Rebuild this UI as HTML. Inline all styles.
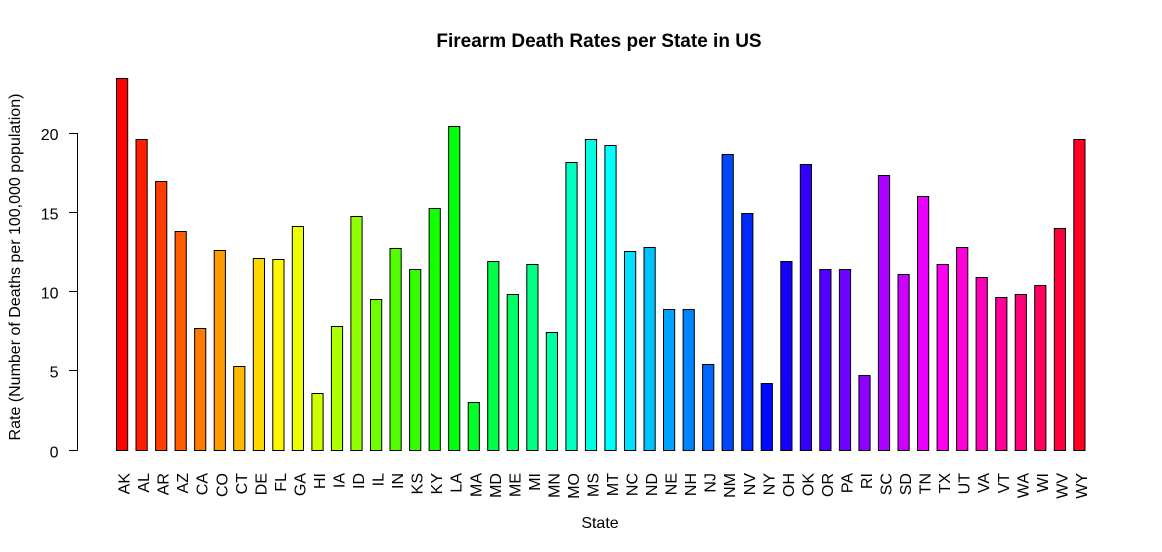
<!DOCTYPE html>
<html>
<head>
<meta charset="utf-8">
<style>
  html, body { margin: 0; padding: 0; background: #ffffff; }
  svg { display: block; }
  text { font-family: "Liberation Sans", Arial, sans-serif; fill: #000; }
</style>
</head>
<body>
<svg width="1162" height="552" viewBox="0 0 1162 552" xmlns="http://www.w3.org/2000/svg">
  <rect x="0" y="0" width="1162" height="552" fill="#ffffff"/>

  <text x="599" y="47" font-size="19" font-weight="bold" text-anchor="middle">Firearm Death Rates per State in US</text>

  <g stroke="#000" stroke-width="1" fill="none">
    <line x1="77.5" y1="133" x2="77.5" y2="450.5"/>
    <line x1="69" y1="450.5" x2="77.5" y2="450.5"/>
    <line x1="69" y1="370.5" x2="77.5" y2="370.5"/>
    <line x1="69" y1="291.5" x2="77.5" y2="291.5"/>
    <line x1="69" y1="212.5" x2="77.5" y2="212.5"/>
    <line x1="69" y1="133.5" x2="77.5" y2="133.5"/>
  </g>
  <g font-size="16" text-anchor="end">
    <text x="58.5" y="457.5">0</text>
    <text x="58.5" y="377.5">5</text>
    <text x="58.5" y="298.5">10</text>
    <text x="58.5" y="219.5">15</text>
    <text x="58.5" y="140">20</text>
  </g>

  <text transform="translate(20,267) rotate(-90)" font-size="16" text-anchor="middle">Rate (Number of Deaths per 100,000 population)</text>

  <text x="600" y="528" font-size="16" text-anchor="middle">State</text>

  <g stroke="#000" stroke-width="1">
    <rect x="116.5" y="78.5" width="11.2" height="372" fill="hsl(0,100%,50%)"/>
    <rect x="136.0" y="139.5" width="11.2" height="311" fill="hsl(7.2,100%,50%)"/>
    <rect x="155.6" y="181.5" width="11.2" height="269" fill="hsl(14.4,100%,50%)"/>
    <rect x="175.1" y="231.5" width="11.2" height="219" fill="hsl(21.6,100%,50%)"/>
    <rect x="194.6" y="328.5" width="11.2" height="122" fill="hsl(28.8,100%,50%)"/>
    <rect x="214.2" y="250.5" width="11.2" height="200" fill="hsl(36,100%,50%)"/>
    <rect x="233.7" y="366.5" width="11.2" height="84" fill="hsl(43.2,100%,50%)"/>
    <rect x="253.3" y="258.5" width="11.2" height="192" fill="hsl(50.4,100%,50%)"/>
    <rect x="272.8" y="259.5" width="11.2" height="191" fill="hsl(57.6,100%,50%)"/>
    <rect x="292.3" y="226.5" width="11.2" height="224" fill="hsl(64.8,100%,50%)"/>
    <rect x="311.9" y="393.5" width="11.2" height="57" fill="hsl(72,100%,50%)"/>
    <rect x="331.4" y="326.5" width="11.2" height="124" fill="hsl(79.2,100%,50%)"/>
    <rect x="350.9" y="216.5" width="11.2" height="234" fill="hsl(86.4,100%,50%)"/>
    <rect x="370.5" y="299.5" width="11.2" height="151" fill="hsl(93.6,100%,50%)"/>
    <rect x="390.0" y="248.5" width="11.2" height="202" fill="hsl(100.8,100%,50%)"/>
    <rect x="409.6" y="269.5" width="11.2" height="181" fill="hsl(108,100%,50%)"/>
    <rect x="429.1" y="208.5" width="11.2" height="242" fill="hsl(115.2,100%,50%)"/>
    <rect x="448.6" y="126.5" width="11.2" height="324" fill="hsl(122.4,100%,50%)"/>
    <rect x="468.2" y="402.5" width="11.2" height="48" fill="hsl(129.6,100%,50%)"/>
    <rect x="487.7" y="261.5" width="11.2" height="189" fill="hsl(136.8,100%,50%)"/>
    <rect x="507.2" y="294.5" width="11.2" height="156" fill="hsl(144,100%,50%)"/>
    <rect x="526.8" y="264.5" width="11.2" height="186" fill="hsl(151.2,100%,50%)"/>
    <rect x="546.3" y="332.5" width="11.2" height="118" fill="hsl(158.4,100%,50%)"/>
    <rect x="565.9" y="162.5" width="11.2" height="288" fill="hsl(165.6,100%,50%)"/>
    <rect x="585.4" y="139.5" width="11.2" height="311" fill="hsl(172.8,100%,50%)"/>
    <rect x="604.9" y="145.5" width="11.2" height="305" fill="hsl(180,100%,50%)"/>
    <rect x="624.5" y="251.5" width="11.2" height="199" fill="hsl(187.2,100%,50%)"/>
    <rect x="644.0" y="247.5" width="11.2" height="203" fill="hsl(194.4,100%,50%)"/>
    <rect x="663.5" y="309.5" width="11.2" height="141" fill="hsl(201.6,100%,50%)"/>
    <rect x="683.1" y="309.5" width="11.2" height="141" fill="hsl(208.8,100%,50%)"/>
    <rect x="702.6" y="364.5" width="11.2" height="86" fill="hsl(216,100%,50%)"/>
    <rect x="722.1" y="154.5" width="11.2" height="296" fill="hsl(223.2,100%,50%)"/>
    <rect x="741.7" y="213.5" width="11.2" height="237" fill="hsl(230.4,100%,50%)"/>
    <rect x="761.2" y="383.5" width="11.2" height="67" fill="hsl(237.6,100%,50%)"/>
    <rect x="780.8" y="261.5" width="11.2" height="189" fill="hsl(244.8,100%,50%)"/>
    <rect x="800.3" y="164.5" width="11.2" height="286" fill="hsl(252,100%,50%)"/>
    <rect x="819.8" y="269.5" width="11.2" height="181" fill="hsl(259.2,100%,50%)"/>
    <rect x="839.4" y="269.5" width="11.2" height="181" fill="hsl(266.4,100%,50%)"/>
    <rect x="858.9" y="375.5" width="11.2" height="75" fill="hsl(273.6,100%,50%)"/>
    <rect x="878.4" y="175.5" width="11.2" height="275" fill="hsl(280.8,100%,50%)"/>
    <rect x="898.0" y="274.5" width="11.2" height="176" fill="hsl(288,100%,50%)"/>
    <rect x="917.5" y="196.5" width="11.2" height="254" fill="hsl(295.2,100%,50%)"/>
    <rect x="937.1" y="264.5" width="11.2" height="186" fill="hsl(302.4,100%,50%)"/>
    <rect x="956.6" y="247.5" width="11.2" height="203" fill="hsl(309.6,100%,50%)"/>
    <rect x="976.1" y="277.5" width="11.2" height="173" fill="hsl(316.8,100%,50%)"/>
    <rect x="995.7" y="297.5" width="11.2" height="153" fill="hsl(324,100%,50%)"/>
    <rect x="1015.2" y="294.5" width="11.2" height="156" fill="hsl(331.2,100%,50%)"/>
    <rect x="1034.7" y="285.5" width="11.2" height="165" fill="hsl(338.4,100%,50%)"/>
    <rect x="1054.3" y="228.5" width="11.2" height="222" fill="hsl(345.6,100%,50%)"/>
    <rect x="1073.8" y="139.5" width="11.2" height="311" fill="hsl(352.8,100%,50%)"/>
  </g>

  <g font-size="16" text-anchor="end">
    <text transform="translate(129.6,473) rotate(-90)">AK</text>
    <text transform="translate(149.1,473) rotate(-90)">AL</text>
    <text transform="translate(168.7,473) rotate(-90)">AR</text>
    <text transform="translate(188.2,473) rotate(-90)">AZ</text>
    <text transform="translate(207.7,473) rotate(-90)">CA</text>
    <text transform="translate(227.3,473) rotate(-90)">CO</text>
    <text transform="translate(246.8,473) rotate(-90)">CT</text>
    <text transform="translate(266.4,473) rotate(-90)">DE</text>
    <text transform="translate(285.9,473) rotate(-90)">FL</text>
    <text transform="translate(305.4,473) rotate(-90)">GA</text>
    <text transform="translate(325.0,473) rotate(-90)">HI</text>
    <text transform="translate(344.5,473) rotate(-90)">IA</text>
    <text transform="translate(364.0,473) rotate(-90)">ID</text>
    <text transform="translate(383.6,473) rotate(-90)">IL</text>
    <text transform="translate(403.1,473) rotate(-90)">IN</text>
    <text transform="translate(422.7,473) rotate(-90)">KS</text>
    <text transform="translate(442.2,473) rotate(-90)">KY</text>
    <text transform="translate(461.7,473) rotate(-90)">LA</text>
    <text transform="translate(481.3,473) rotate(-90)">MA</text>
    <text transform="translate(500.8,473) rotate(-90)">MD</text>
    <text transform="translate(520.3,473) rotate(-90)">ME</text>
    <text transform="translate(539.9,473) rotate(-90)">MI</text>
    <text transform="translate(559.4,473) rotate(-90)">MN</text>
    <text transform="translate(579.0,473) rotate(-90)">MO</text>
    <text transform="translate(598.5,473) rotate(-90)">MS</text>
    <text transform="translate(618.0,473) rotate(-90)">MT</text>
    <text transform="translate(637.6,473) rotate(-90)">NC</text>
    <text transform="translate(657.1,473) rotate(-90)">ND</text>
    <text transform="translate(676.6,473) rotate(-90)">NE</text>
    <text transform="translate(696.2,473) rotate(-90)">NH</text>
    <text transform="translate(715.7,473) rotate(-90)">NJ</text>
    <text transform="translate(735.2,473) rotate(-90)">NM</text>
    <text transform="translate(754.8,473) rotate(-90)">NV</text>
    <text transform="translate(774.3,473) rotate(-90)">NY</text>
    <text transform="translate(793.9,473) rotate(-90)">OH</text>
    <text transform="translate(813.4,473) rotate(-90)">OK</text>
    <text transform="translate(832.9,473) rotate(-90)">OR</text>
    <text transform="translate(852.5,473) rotate(-90)">PA</text>
    <text transform="translate(872.0,473) rotate(-90)">RI</text>
    <text transform="translate(891.5,473) rotate(-90)">SC</text>
    <text transform="translate(911.1,473) rotate(-90)">SD</text>
    <text transform="translate(930.6,473) rotate(-90)">TN</text>
    <text transform="translate(950.2,473) rotate(-90)">TX</text>
    <text transform="translate(969.7,473) rotate(-90)">UT</text>
    <text transform="translate(989.2,473) rotate(-90)">VA</text>
    <text transform="translate(1008.8,473) rotate(-90)">VT</text>
    <text transform="translate(1028.3,473) rotate(-90)">WA</text>
    <text transform="translate(1047.8,473) rotate(-90)">WI</text>
    <text transform="translate(1067.4,473) rotate(-90)">WV</text>
    <text transform="translate(1086.9,473) rotate(-90)">WY</text>
  </g>
</svg>
</body>
</html>
